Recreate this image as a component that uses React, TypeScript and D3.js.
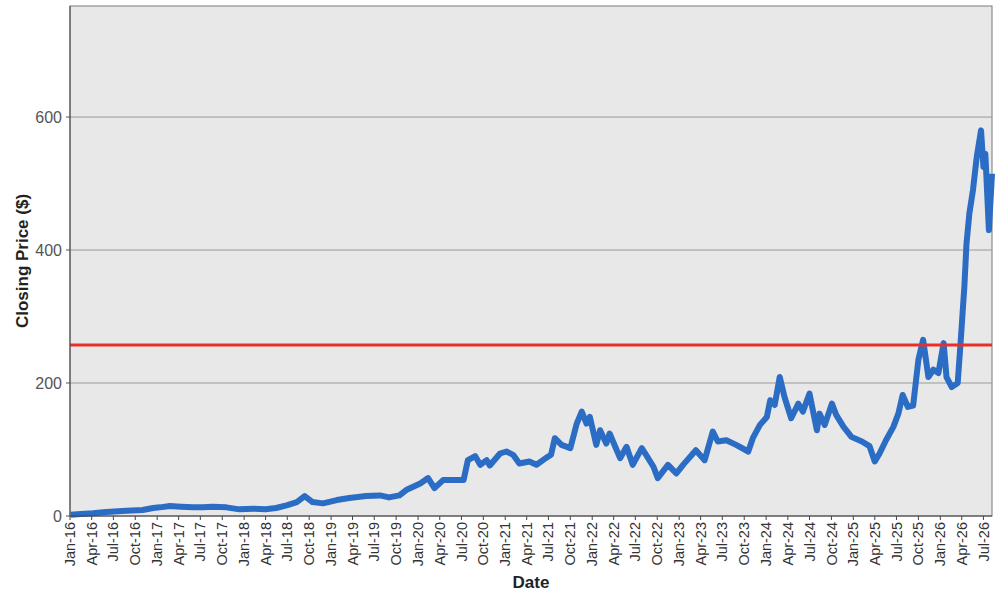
import * as d3 from "d3";

// closing prices, roughly twice a month where the line moves
const dates: string[] = [
  "2016-01-04", "2016-02-15", "2016-04-06", "2016-06-01", "2016-08-25", "2016-11-01",
  "2016-12-15", "2017-01-12", "2017-02-24", "2017-04-10", "2017-06-01", "2017-07-12",
  "2017-08-20", "2017-10-18", "2017-12-12", "2018-02-10", "2018-04-01", "2018-05-15",
  "2018-06-28", "2018-08-10", "2018-09-12", "2018-10-15", "2018-11-28", "2019-01-25",
  "2019-03-18", "2019-05-28", "2019-07-25", "2019-09-01", "2019-10-15", "2019-11-12",
  "2020-01-10", "2020-02-12", "2020-03-10", "2020-04-15", "2020-06-10", "2020-07-10",
  "2020-07-28", "2020-08-28", "2020-09-18", "2020-10-15", "2020-10-28", "2020-12-10",
  "2021-01-06", "2021-02-03", "2021-03-01", "2021-04-12", "2021-05-12", "2021-06-20",
  "2021-07-12", "2021-07-28", "2021-08-25", "2021-10-01", "2021-10-28", "2021-11-18",
  "2021-12-08", "2021-12-22", "2022-01-18", "2022-02-03", "2022-03-01", "2022-03-15",
  "2022-04-28", "2022-05-25", "2022-06-20", "2022-07-28", "2022-08-15", "2022-09-15",
  "2022-10-03", "2022-11-15", "2022-12-20", "2023-01-20", "2023-03-12", "2023-04-18",
  "2023-05-22", "2023-06-12", "2023-07-18", "2023-08-28", "2023-10-18", "2023-11-06",
  "2023-12-06", "2024-01-04", "2024-01-18", "2024-02-06", "2024-02-27", "2024-03-18",
  "2024-04-15", "2024-05-15", "2024-06-03", "2024-07-01", "2024-08-01", "2024-08-12",
  "2024-09-03", "2024-10-03", "2024-10-21", "2024-11-21", "2024-12-24", "2025-02-06",
  "2025-03-10", "2025-04-01", "2025-04-21", "2025-05-18", "2025-06-18", "2025-07-09",
  "2025-07-27", "2025-08-18", "2025-09-09", "2025-10-01", "2025-10-21", "2025-11-12",
  "2025-12-03", "2025-12-24", "2026-01-15", "2026-01-27", "2026-02-18", "2026-03-15",
  "2026-03-27", "2026-04-12", "2026-04-21", "2026-05-03", "2026-05-18", "2026-06-03",
  "2026-06-21", "2026-07-01", "2026-07-09", "2026-07-24", "2026-08-06",
];

const closes: number[] = [
  2, 3, 4, 6, 8, 9,
  12, 13, 15, 14, 13, 13,
  14, 13, 10, 11, 10, 12,
  16, 21, 30, 21, 19, 24,
  27, 30, 31, 28, 31, 39,
  49, 57, 42, 54, 54, 54,
  84, 90, 77, 84, 76, 94,
  97, 92, 79, 82, 77, 87,
  92, 117, 107, 102, 139, 157,
  139, 149, 107, 129, 109, 124,
  87, 104, 77, 102, 92, 74,
  57, 77, 64, 78, 99, 84,
  127, 112, 114, 107, 97, 117,
  137, 149, 174, 167, 209, 179,
  147, 169, 157, 184, 129, 154,
  137, 169, 152, 134, 119, 112,
  105, 82, 94, 114, 134, 154,
  182, 164, 166, 235, 265, 209,
  220, 215, 260, 209, 194, 200,
  260, 345, 410, 455, 490, 540,
  580, 525, 545, 430, 515,
];

const yTicks: number[] = [0, 200, 400, 600];
const referenceLevel = 257;
const yMax = 767;

const W = 1000;
const H = 600;
const margin = { top: 6, right: 8, bottom: 84, left: 70 };

export default function App() {
  const parse = d3.timeParse("%Y-%m-%d");
  const points = dates.map((d, i) => ({ date: parse(d) as Date, close: closes[i] }));

  const x = d3
    .scaleTime()
    .domain([new Date(2016, 0, 1), points[points.length - 1].date])
    .range([margin.left, W - margin.right]);

  const y = d3
    .scaleLinear()
    .domain([0, yMax])
    .range([H - margin.bottom, margin.top]);

  const line = d3
    .line<{ date: Date; close: number }>()
    .x((d) => x(d.date))
    .y((d) => y(d.close));

  const xTicks = d3.timeMonth.every(3)!.range(new Date(2016, 0, 1), x.domain()[1]);
  const fmt = d3.timeFormat("%b-%y");

  const plotBottom = H - margin.bottom;
  const plotRight = W - margin.right;
  const font = "'Liberation Sans', Arial, sans-serif";

  return (
    <svg
      width={W}
      height={H}
      style={{ position: "absolute", left: 0, top: 0, background: "#fff" }}
      fontFamily={font}
    >
      <rect
        x={margin.left}
        y={margin.top}
        width={plotRight - margin.left}
        height={plotBottom - margin.top}
        fill="#e8e8e8"
        stroke="#7a7a7a"
        strokeWidth={1}
      />

      {yTicks
        .filter((t) => t > 0)
        .map((t) => (
          <line
            key={"g" + t}
            x1={margin.left}
            x2={plotRight}
            y1={y(t)}
            y2={y(t)}
            stroke="#999"
            strokeWidth={1}
          />
        ))}

      {yTicks.map((t) => (
        <g key={"y" + t} transform={`translate(${margin.left},${y(t)})`}>
          <line x1={-4} x2={0} stroke="#555" />
          <text x={-8} dy="0.35em" textAnchor="end" fontSize={16} fill="#555">
            {t}
          </text>
        </g>
      ))}

      <path
        d={line(points) ?? ""}
        fill="none"
        stroke="#2b6cc4"
        strokeWidth={6}
        strokeLinejoin="round"
      />

      <line
        x1={margin.left}
        x2={plotRight}
        y1={y(referenceLevel)}
        y2={y(referenceLevel)}
        stroke="#e8302b"
        strokeWidth={3}
      />

      <line x1={margin.left} x2={margin.left} y1={margin.top} y2={plotBottom} stroke="#444" />
      <line x1={margin.left} x2={plotRight} y1={plotBottom} y2={plotBottom} stroke="#444" />

      {xTicks.map((t) => (
        <g key={t.toISOString()} transform={`translate(${x(t)},${plotBottom})`}>
          <line y1={0} y2={4} stroke="#444" />
          <text
            transform="rotate(-90)"
            x={-6}
            dy="0.35em"
            textAnchor="end"
            fontSize={14.5}
            fill="#333"
          >
            {fmt(t)}
          </text>
        </g>
      ))}

      <text
        transform={`translate(22,${(margin.top + plotBottom) / 2}) rotate(-90)`}
        textAnchor="middle"
        dy="0.35em"
        fontSize={17}
        fontWeight="bold"
        fill="#222"
      >
        Closing Price ($)
      </text>
      <text
        x={(margin.left + plotRight) / 2}
        y={588}
        textAnchor="middle"
        fontSize={17}
        fontWeight="bold"
        fill="#222"
      >
        Date
      </text>
    </svg>
  );
}
